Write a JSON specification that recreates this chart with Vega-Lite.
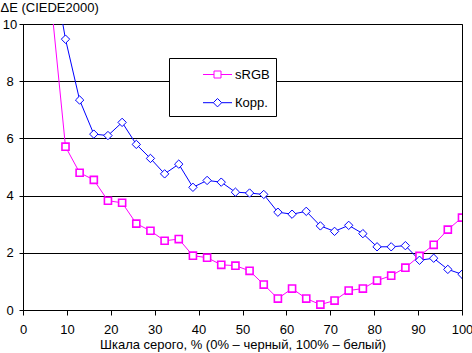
{
  "$schema": "https://vega.github.io/schema/vega-lite/v6.json",
  "width": 439,
  "height": 286,
  "autosize": {"type": "none"},
  "padding": {"left": 23, "top": 24, "right": 10, "bottom": 43},
  "background": "white",
  "config": {
    "view": {"stroke": "black", "strokeWidth": 1},
    "font": "Liberation Sans",
    "axis": {
      "domainColor": "black", "tickColor": "black", "gridColor": "black", "gridOpacity": 1,
      "labelFont": "Liberation Sans", "labelFontSize": 13, "labelColor": "black",
      "titleFont": "Liberation Sans", "titleFontSize": 13, "titleColor": "black", "titleFontWeight": "normal"
    },
    "legend": {
      "orient": "none", "legendX": 146, "legendY": 34, "title": null,
      "strokeColor": "black", "fillColor": "white", "padding": 6,
      "symbolSize": 400, "symbolStrokeWidth": 1, "symbolOpacity": 1, "symbolFillColor": "white",
      "labelFont": "Liberation Sans", "labelFontSize": 13, "labelColor": "black",
      "rowPadding": 10.2, "symbolOffset": 32, "labelOffset": 7
    }
  },
  "data": {"values": [
    {"x": 6.45, "value": 10.7, "series": "sRGB"},
    {"x": 9.68, "value": 5.71, "series": "sRGB"},
    {"x": 12.9, "value": 4.80, "series": "sRGB"},
    {"x": 16.13, "value": 4.55, "series": "sRGB"},
    {"x": 19.35, "value": 3.82, "series": "sRGB"},
    {"x": 22.58, "value": 3.75, "series": "sRGB"},
    {"x": 25.81, "value": 3.02, "series": "sRGB"},
    {"x": 29.03, "value": 2.77, "series": "sRGB"},
    {"x": 32.26, "value": 2.42, "series": "sRGB"},
    {"x": 35.48, "value": 2.48, "series": "sRGB"},
    {"x": 38.71, "value": 1.90, "series": "sRGB"},
    {"x": 41.94, "value": 1.83, "series": "sRGB"},
    {"x": 45.16, "value": 1.58, "series": "sRGB"},
    {"x": 48.39, "value": 1.55, "series": "sRGB"},
    {"x": 51.61, "value": 1.37, "series": "sRGB"},
    {"x": 54.84, "value": 0.89, "series": "sRGB"},
    {"x": 58.06, "value": 0.40, "series": "sRGB"},
    {"x": 61.29, "value": 0.75, "series": "sRGB"},
    {"x": 64.52, "value": 0.40, "series": "sRGB"},
    {"x": 67.74, "value": 0.19, "series": "sRGB"},
    {"x": 70.97, "value": 0.33, "series": "sRGB"},
    {"x": 74.19, "value": 0.68, "series": "sRGB"},
    {"x": 77.42, "value": 0.75, "series": "sRGB"},
    {"x": 80.65, "value": 1.03, "series": "sRGB"},
    {"x": 83.87, "value": 1.20, "series": "sRGB"},
    {"x": 87.1, "value": 1.48, "series": "sRGB"},
    {"x": 90.32, "value": 1.89, "series": "sRGB"},
    {"x": 93.55, "value": 2.28, "series": "sRGB"},
    {"x": 96.77, "value": 2.81, "series": "sRGB"},
    {"x": 100, "value": 3.23, "series": "sRGB"},
    {"x": 6.45, "value": 12.3, "series": "Корр."},
    {"x": 9.68, "value": 9.47, "series": "Корр."},
    {"x": 12.9, "value": 7.34, "series": "Корр."},
    {"x": 16.13, "value": 6.15, "series": "Корр."},
    {"x": 19.35, "value": 6.10, "series": "Корр."},
    {"x": 22.58, "value": 6.56, "series": "Корр."},
    {"x": 25.81, "value": 5.79, "series": "Корр."},
    {"x": 29.03, "value": 5.30, "series": "Корр."},
    {"x": 32.26, "value": 4.76, "series": "Корр."},
    {"x": 35.48, "value": 5.10, "series": "Корр."},
    {"x": 38.71, "value": 4.29, "series": "Корр."},
    {"x": 41.94, "value": 4.53, "series": "Корр."},
    {"x": 45.16, "value": 4.47, "series": "Корр."},
    {"x": 48.39, "value": 4.12, "series": "Корр."},
    {"x": 51.61, "value": 4.09, "series": "Корр."},
    {"x": 54.84, "value": 4.04, "series": "Корр."},
    {"x": 58.06, "value": 3.42, "series": "Корр."},
    {"x": 61.29, "value": 3.35, "series": "Корр."},
    {"x": 64.52, "value": 3.45, "series": "Корр."},
    {"x": 67.74, "value": 2.94, "series": "Корр."},
    {"x": 70.97, "value": 2.75, "series": "Корр."},
    {"x": 74.19, "value": 2.96, "series": "Корр."},
    {"x": 77.42, "value": 2.67, "series": "Корр."},
    {"x": 80.65, "value": 2.21, "series": "Корр."},
    {"x": 83.87, "value": 2.21, "series": "Корр."},
    {"x": 87.1, "value": 2.25, "series": "Корр."},
    {"x": 90.32, "value": 1.74, "series": "Корр."},
    {"x": 93.55, "value": 1.81, "series": "Корр."},
    {"x": 96.77, "value": 1.42, "series": "Корр."},
    {"x": 100, "value": 1.25, "series": "Корр."}
  ]},
  "encoding": {
    "x": {
      "field": "x", "type": "quantitative",
      "scale": {"domain": [0, 100], "nice": false, "zero": false},
      "axis": {
        "values": [0, 10, 20, 30, 40, 50, 60, 70, 80, 90, 100],
        "grid": false, "tickSize": 5, "labelPadding": 8, "labelFlush": false,
        "title": "Шкала серого, % (0% – черный, 100% – белый)", "titlePadding": 2
      }
    },
    "y": {
      "field": "value", "type": "quantitative",
      "scale": {"domain": [0, 10], "nice": false},
      "axis": {
        "values": [0, 2, 4, 6, 8, 10], "grid": true, "tickSize": 4,
        "labelAlign": "center", "labelPadding": 9.5,
        "title": "ΔE (CIEDE2000)", "titleAngle": 0, "titleAlign": "left",
        "titleBaseline": "alphabetic", "titleX": -23, "titleY": -13
      }
    },
    "stroke": {
      "field": "series", "type": "nominal",
      "scale": {"domain": ["sRGB", "Корр."], "range": ["#FF00FF", "#0000FF"]},
      "legend": {"title": null, "labelExpr": "datum.label + '\u00a0\u00a0\u00a0\u00a0\u00a0\u00a0\u00a0'"}
    }
  },
  "layer": [
    {
      "mark": {"type": "line", "strokeWidth": 1, "clip": true}
    },
    {
      "transform": [{"filter": "datum.series == 'sRGB'"}],
      "mark": {"type": "point", "shape": "square", "size": 50, "strokeWidth": 1.6, "filled": false, "fill": "white", "fillOpacity": 1, "opacity": 1, "clip": true}
    },
    {
      "transform": [{"filter": "datum.series == 'Корр.'"}],
      "mark": {"type": "point", "shape": "diamond", "size": 70, "strokeWidth": 1, "filled": false, "fill": "white", "fillOpacity": 1, "opacity": 1, "clip": true}
    },
    {
      "mark": {"type": "point", "filled": false, "opacity": 0, "clip": true},
      "encoding": {
        "shape": {
          "field": "series", "type": "nominal",
          "scale": {"domain": ["sRGB", "Корр."], "range": [
            "M-1.45,0H-0.35M0.35,0H1.45M-0.35,-0.35H0.35V0.35H-0.35Z",
            "M-1.45,0H-0.42M0.42,0H1.45M-0.42,0L0,-0.42L0.42,0L0,0.42Z"
          ]},
          "legend": {"title": null, "labelExpr": "datum.label + '\u00a0\u00a0\u00a0\u00a0\u00a0\u00a0\u00a0'"}
        }
      }
    }
  ]
}
